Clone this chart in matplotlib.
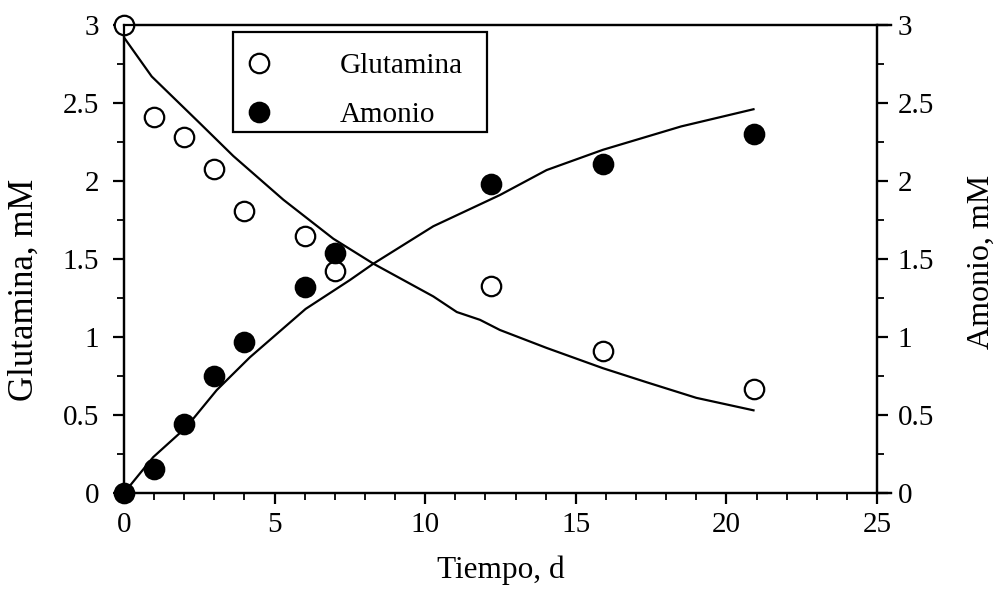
import matplotlib
matplotlib.use("Agg")
import matplotlib.pyplot as plt
from matplotlib.ticker import MultipleLocator
from matplotlib.patches import Rectangle

plt.rcParams['font.family'] = ['Liberation Serif', 'DejaVu Serif']

# Measured concentrations (mM) versus time (days)
t_glut = [0, 1, 2, 3, 4, 6, 7, 12.2, 15.9, 20.9]
glutamina = [3.0, 2.41, 2.28, 2.08, 1.81, 1.65, 1.42, 1.33, 0.91, 0.665]

t_amon = [0, 1, 2, 3, 4, 6, 7, 12.2, 15.9, 20.9]
amonio = [0.0, 0.154, 0.44, 0.75, 0.97, 1.32, 1.54, 1.98, 2.11, 2.30]

# Model curves
t_fit_glut = [0, 0.92, 2.52, 3.63, 5.29, 6.95, 8.28, 10.27, 11.05, 11.82,
              12.48, 14.03, 15.9, 17.35, 19.0, 20.9]
fit_glut = [2.92, 2.67, 2.37, 2.16, 1.88, 1.63, 1.47, 1.26, 1.16, 1.11,
            1.045, 0.93, 0.80, 0.71, 0.61, 0.53]

t_fit_amon = [0, 0.97, 2.06, 3.08, 4.18, 6.03, 7.5, 8.28, 10.27, 12.48,
              14.03, 15.9, 18.5, 20.9]
fit_amon = [0.0, 0.23, 0.42, 0.66, 0.87, 1.18, 1.365, 1.47, 1.71, 1.91,
            2.07, 2.20, 2.35, 2.46]

W, H = 998, 595
fig = plt.figure(figsize=(W / 100, H / 100), dpi=100)
ax = fig.add_axes([124 / W, 1 - 493 / H, (877 - 124) / W, (493 - 25) / H])
ax2 = ax.twinx()

lw = 1.6
ax.plot(t_fit_glut, fit_glut, color='black', lw=lw, zorder=2)
ax2.plot(t_fit_amon, fit_amon, color='black', lw=lw, zorder=2)

ms = 14
h1, = ax.plot(t_glut, glutamina, 'o', ms=ms, mfc='white', mec='black', mew=1.6,
              clip_on=False, zorder=4, label='Glutamina')
h2, = ax2.plot(t_amon, amonio, 'o', ms=ms, mfc='black', mec='black', mew=1.6,
               clip_on=False, zorder=4, label='Amonio')

for a in (ax, ax2):
    a.set_xlim(0, 25)
    a.set_ylim(0, 3)
    a.yaxis.set_major_locator(MultipleLocator(0.5))
    a.yaxis.set_minor_locator(MultipleLocator(0.25))
    for s in a.spines.values():
        s.set_linewidth(1.6)
    # horizontal frame lines run slightly past the right axis
    a.spines['top'].set_bounds(0, 25.45)
    a.spines['bottom'].set_bounds(0, 25.45)

ax.xaxis.set_major_locator(MultipleLocator(5))
ax.xaxis.set_minor_locator(MultipleLocator(1))

fmt = plt.FuncFormatter(lambda v, pos=None: '%g' % v)
ax.yaxis.set_major_formatter(fmt)
ax2.yaxis.set_major_formatter(fmt)

ax.tick_params(axis='both', which='major', direction='out', length=8, width=1.6,
               labelsize=21)
ax.tick_params(axis='x', which='major', pad=6)
ax.tick_params(axis='y', which='major', pad=10)
ax.tick_params(axis='both', which='minor', direction='out', length=5, width=1.3)
ax.tick_params(axis='y', which='both', right=False)
ax.tick_params(axis='x', which='both', top=False)
ax2.tick_params(axis='y', which='major', direction='out', length=8, width=1.6,
                labelsize=21, pad=7)
ax2.tick_params(axis='y', which='minor', direction='out', length=5, width=1.3)

ax.set_xlabel('Tiempo, d', fontsize=22.5, labelpad=12)
fig.text(24 / W, 1 - 290 / H, 'Glutamina, mM', rotation=90, fontsize=25,
         ha='center', va='center')
fig.text(981 / W, 1 - 262 / H, 'Amonio, mM', rotation=90, fontsize=23,
         ha='center', va='center')

# legend box drawn beneath the legend entries
box = Rectangle((233 / W, 1 - 132 / H), (487 - 233) / W, (132 - 32) / H,
                transform=fig.transFigure, facecolor='white',
                edgecolor='black', lw=1.6, zorder=9, clip_on=False)
ax2.add_patch(box)

leg = ax2.legend(handles=[h1, h2], loc='upper left',
                 bbox_to_anchor=(233 / W, 1 - 38 / H),
                 bbox_transform=fig.transFigure, borderaxespad=0,
                 fontsize=21, frameon=False, numpoints=1,
                 borderpad=0.5, handlelength=0.8, handletextpad=2.35,
                 labelspacing=0.78, markerscale=1.0)
leg.set_zorder(10)

fig.savefig('out.png', dpi=100)
